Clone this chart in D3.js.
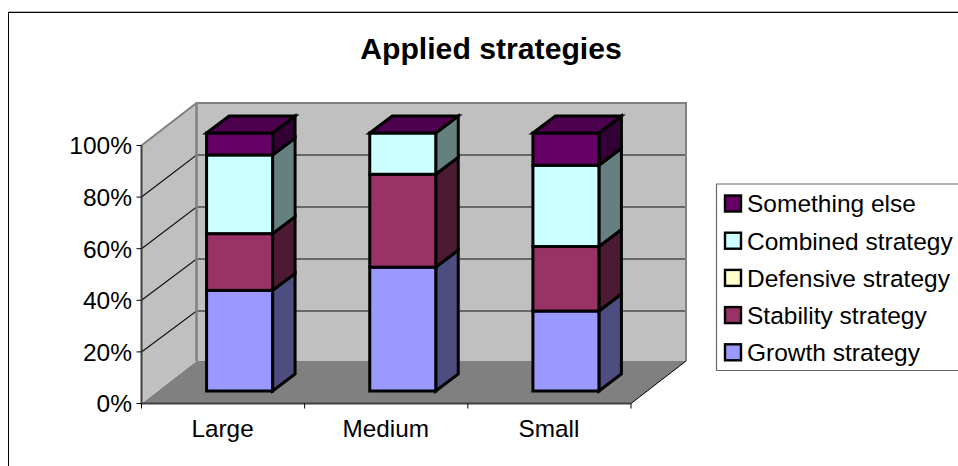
<!DOCTYPE html>
<html>
<head>
<meta charset="utf-8">
<script src="https://cdn.jsdelivr.net/npm/d3@7/dist/d3.min.js"></script>
<style>
html,body{margin:0;padding:0;background:#fff;overflow:hidden}
svg{display:block}
text{font-family:"Liberation Sans",Arial,sans-serif;fill:#000}
</style>
</head>
<body>
<svg id="chart" width="958" height="466"></svg>
<script>
const categories = ["Large", "Medium", "Small"];
const seriesNames = ["Growth strategy", "Stability strategy", "Defensive strategy", "Combined strategy", "Something else"];
const growth = [39, 48, 31];
const stability = [22, 36, 25];
const defensive = [0, 0, 0];
const combined = [30.5, 16, 31.5];
const somethingElse = [8.5, 0, 12.5];
const yTicks = [0, 20, 40, 60, 80, 100];
const frontColors = ["#9999ff", "#993366", "#ffffcc", "#ccffff", "#660066"];
const sideColors = ["#4d4d80", "#4d1a33", "#808066", "#668080", "#330033"];
const capColor = "#4d004d";

const svg = d3.select("#chart");

// Oblique projection: the wall and the bars are offset up and to the right.
const wallDx = 55;
const barDx = 22.5, barDy = -17;
const barWidth = 66, barInset = 17;
const plot = {left: 141.5, right: 631, base: 403.5, top: 145.5};
const backFloor = 361;

const x = d3.scaleBand().domain(categories).range([plot.left, plot.right]);
const yFront = d3.scaleLinear().domain([0, 100]).range([plot.base, plot.top]);
const yBack = d3.scaleLinear().domain([0, 100]).range([363, 103]);
const yBar = d3.scaleLinear().domain([0, 100]).range([391, 133]);

const poly = pts => pts.map(p => p.join(",")).join(" ");
const line = d3.line();

// Outer frame: top and left rules run off the page
svg.append("line").attr("x1", 8).attr("x2", 958).attr("y1", 11.5).attr("y2", 11.5).attr("stroke", "#bbb");
svg.append("line").attr("x1", 8).attr("x2", 958).attr("y1", 12.5).attr("y2", 12.5).attr("stroke", "#000");
svg.append("line").attr("x1", 8.5).attr("x2", 8.5).attr("y1", 12).attr("y2", 466).attr("stroke", "#000");

// Title
svg.append("text").attr("x", 491).attr("y", 59).attr("text-anchor", "middle")
  .attr("font-size", 30.2).attr("font-weight", "bold").text("Applied strategies");

// Walls and floor
const wallTop = yBack(100), backLeft = plot.left + wallDx, backRight = plot.right + wallDx;
svg.append("polygon").attr("points", poly([[plot.left, plot.base], [plot.right, plot.base], [backRight, backFloor], [backLeft, backFloor]]))
  .attr("fill", "#808080");
svg.append("polygon").attr("points", poly([[plot.left, plot.base], [backLeft, backFloor], [backLeft, wallTop], [plot.left, plot.top]]))
  .attr("fill", "#c0c0c0");
svg.append("rect").attr("x", backLeft).attr("y", wallTop).attr("width", backRight - backLeft).attr("height", backFloor - wallTop)
  .attr("fill", "#c0c0c0");

// Gridlines across the side wall and the back wall
yTicks.slice(1, -1).forEach(t => {
  svg.append("path").attr("fill", "none").attr("stroke", "#111").attr("stroke-width", 1.2)
    .attr("d", line([[plot.left, yFront(t)], [backLeft, yBack(t)], [backRight, yBack(t)]]));
});

// Wall edges
svg.append("path").attr("fill", "none").attr("stroke", "#808080").attr("stroke-width", 2)
  .attr("d", line([[plot.left, plot.top], [backLeft, wallTop], [backRight, wallTop], [backRight, backFloor]]));
svg.append("path").attr("fill", "none").attr("stroke", "#808080").attr("stroke-width", 2.5)
  .attr("d", line([[backLeft, wallTop], [backLeft, backFloor]]));

// Axis lines and ticks
svg.append("path").attr("fill", "none").attr("stroke", "#404040").attr("stroke-width", 2)
  .attr("d", line([[plot.left, plot.top], [plot.left, plot.base], [plot.right, plot.base]]));
svg.append("path").attr("fill", "none").attr("stroke", "#000").attr("stroke-width", 1)
  .attr("d", line([[plot.right, plot.base], [backRight, backFloor]]));
yTicks.forEach(t => {
  svg.append("line").attr("x1", plot.left - 5).attr("x2", plot.left).attr("y1", yFront(t)).attr("y2", yFront(t))
    .attr("stroke", "#000");
  svg.append("text").attr("x", 132).attr("y", yFront(t)).attr("dy", "0.36em")
    .attr("text-anchor", "end").attr("font-size", 24.5).text(t + "%");
});
[...categories.map(c => x(c)), plot.right].forEach(px => {
  svg.append("line").attr("x1", px).attr("x2", px).attr("y1", plot.base).attr("y2", plot.base + 5).attr("stroke", "#000");
});
categories.forEach(c => {
  svg.append("text").attr("x", x(c) + x.bandwidth() / 2 - 0.5).attr("y", 437).attr("text-anchor", "middle")
    .attr("font-size", 24.3).text(c);
});

// Stacked bars, bottom to top, skipping empty segments
const table = categories.map((c, i) => ({category: c, s0: growth[i], s1: stability[i], s2: defensive[i], s3: combined[i], s4: somethingElse[i]}));
const stacked = d3.stack().keys(["s0", "s1", "s2", "s3", "s4"])(table);
const outlined = (sel, w = 3) => sel.attr("stroke", "#000").attr("stroke-width", w).attr("stroke-linejoin", "miter");

categories.forEach((c, ci) => {
  const x0 = x(c) + (x.bandwidth() - barWidth) / 2 + barInset - 0.5, x1 = x0 + barWidth;
  stacked.forEach((layer, si) => {
    const [a, b] = layer[ci];
    if (b - a <= 0) return;
    const yb = yBar(a), yt = yBar(b);
    outlined(svg.append("polygon")).attr("fill", sideColors[si])
      .attr("points", poly([[x1, yb], [x1 + barDx, yb + barDy], [x1 + barDx, yt + barDy], [x1, yt]]));
    outlined(svg.append("rect")).attr("fill", frontColors[si])
      .attr("x", x0).attr("y", yt).attr("width", barWidth).attr("height", yb - yt);
  });
  const yt = yBar(100);
  outlined(svg.append("polygon")).attr("fill", capColor)
    .attr("points", poly([[x0, yt], [x0 + barDx, yt + barDy], [x1 + barDx, yt + barDy], [x1, yt]]));
});

// Legend box: open on the right, where it runs off the page
svg.append("path").attr("fill", "#fff").attr("stroke", "#666").attr("stroke-width", 1.2)
  .attr("d", line([[958, 184], [716.5, 184], [716.5, 370.5], [958, 370.5]]));
d3.range(seriesNames.length).reverse().forEach((si, i) => {
  const cy = 203.5 + i * 37.2;
  outlined(svg.append("rect"), 2.4).attr("fill", frontColors[si])
    .attr("x", 725).attr("y", cy - 8).attr("width", 16).attr("height", 16);
  svg.append("text").attr("x", 747).attr("y", cy).attr("dy", "0.36em").attr("font-size", 24.5).text(seriesNames[si]);
});
</script>
</body>
</html>
